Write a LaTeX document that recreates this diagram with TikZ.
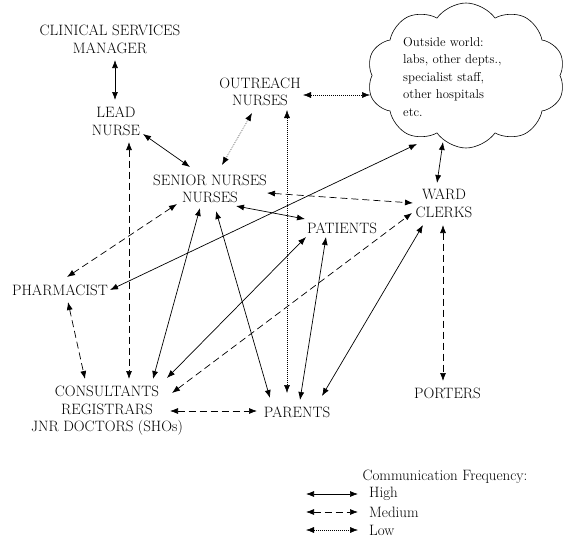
\documentclass[tikz,border=0pt]{standalone}
\usetikzlibrary{arrows.meta,calc,shapes.symbols}
\begin{document}
\begin{tikzpicture}[x=1pt,y=-1pt,
  every node/.style={font=\fontsize{15}{17.5}\selectfont, inner sep=0pt, align=center},
  small/.style={font=\fontsize{12.8}{17.5}\selectfont},
  link/.style={<->, >={Latex[length=8pt,width=6pt]}, line width=0.7pt},
  hi/.style={link},
  med/.style={link, dash pattern=on 7pt off 4pt},
  lo/.style={link, line width=0.5pt, dash pattern=on 0.8pt off 1.2pt}]
\useasboundingbox (0,0) rectangle (565,541);
\node (csm) at (110,39.5) {CLINICAL SERVICES\\MANAGER};
\node (lead) at (116,121.5) {LEAD\\NURSE};
\node (out) at (260,92) {OUTREACH\\NURSES};
\node (sn) at (210,189) {SENIOR NURSES\\NURSES};
\node (ward) at (444,203.5) {WARD\\CLERKS};
\node (pat) at (342,228) {PATIENTS};
\node (pharm) at (60,290) {PHARMACIST};
\node (cons) at (107,411) {CONSULTANTS\\REGISTRARS\\JNR DOCTORS (SHOs)};
\node (par) at (297,412) {PARENTS};
\node (port) at (447.5,393) {PORTERS};
\node[cloud, draw, line width=0.6pt, cloud puffs=10, cloud puff arc=110, cloud ignores aspect,
      minimum width=198pt, minimum height=145pt] (cloud) at (466,75.5) {};
\node[small, anchor=west, align=left] (cloudtext) at (403,77) {Outside world:\\labs, other depts.,\\specialist staff,\\other hospitals\\etc.};

\draw[hi]  ($(csm)+(5,20.5)$) -- ($(lead)+(-1,-21.5)$);
\draw[hi]  ($(lead)+(27,12.5)$) -- ($(sn)+(-20,-22)$);
\draw[lo]  ($(out)+(-8,21)$) -- ($(sn)+(12,-24)$);
\draw[lo]  ($(out)+(43,3)$) -- ($(cloud)+(-96,19.5)$);
\draw[lo]  ($(out)+(27,18)$) -- ($(par)+(-10,-19)$);
\draw[med] ($(lead)+(13,20.5)$) -- ($(cons)+(22,-32)$);
\draw[med] ($(sn)+(57,4)$) -- ($(ward)+(-31,-0.5)$);
\draw[hi]  ($(sn)+(26,17)$) -- ($(pat)+(-37,-9)$);
\draw[hi]  ($(pharm)+(50,0)$) -- ($(cloud)+(-49,68.5)$);
\draw[med] ($(sn)+(-33,15)$) -- ($(pharm)+(7,-13)$);
\draw[hi]  ($(sn)+(-10,19)$) -- ($(cons)+(46,-32)$);
\draw[hi]  ($(sn)+(6,22)$) -- ($(par)+(-27,-14)$);
\draw[med] ($(pharm)+(8,12)$) -- ($(cons)+(-22,-32)$);
\draw[hi]  ($(cons)+(60,-33)$) -- ($(pat)+(-36,9)$);
\draw[med] ($(cons)+(65,-18)$) -- ($(ward)+(-32,9.5)$);
\draw[med] ($(cons)+(63,0)$) -- ($(par)+(-40,-1)$);
\draw[hi]  ($(pat)+(-16,9)$) -- ($(par)+(3,-12)$);
\draw[hi]  ($(ward)+(-21,21.5)$) -- ($(par)+(25,-16)$);
\draw[med] ($(ward)+(-1,21.5)$) -- ($(port)+(-4.5,-12)$);
\draw[hi]  ($(cloud)+(-23,66.5)$) -- ($(ward)+(-7,-20.5)$);

\node (legt) at (445,477) {Communication Frequency:};
\node[anchor=west] (lhi) at (369,494) {High};
\node[anchor=west] (lmed) at (369,512) {Medium};
\node[anchor=west] (llo) at (369,530) {Low};
\draw[hi]  ($(lhi.west)+(-63,0)$) -- ($(lhi.west)+(-11,0)$);
\draw[med] ($(lmed.west)+(-63,0)$) -- ($(lmed.west)+(-11,0)$);
\draw[lo]  ($(llo.west)+(-63,0)$) -- ($(llo.west)+(-11,0)$);
\end{tikzpicture}
\end{document}
